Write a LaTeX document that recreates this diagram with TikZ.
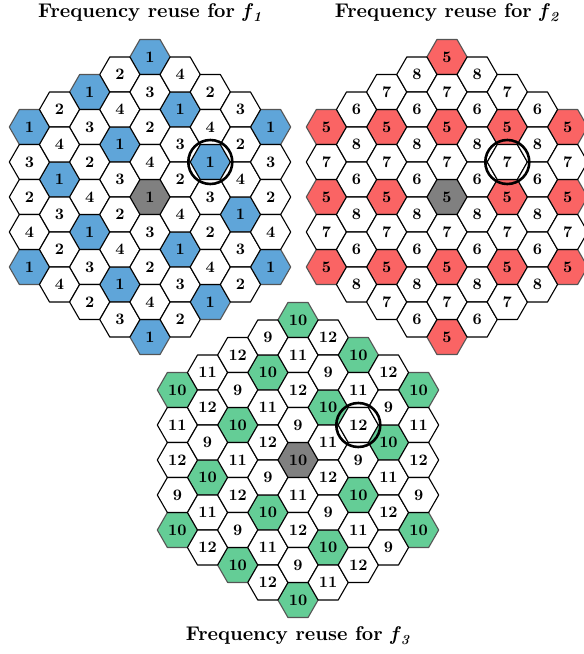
\documentclass[tikz,border=0pt]{standalone}
\usepackage{fontspec}
\setmainfont{lmroman10}[Extension=.otf, UprightFont=*-regular, BoldFont=*-bold, ItalicFont=*-italic, BoldItalicFont=*-bolditalic]
\definecolor{cblue}{HTML}{5FA5D9}
\definecolor{cred}{HTML}{FA6464}
\definecolor{cgreen}{HTML}{64CD96}
\definecolor{cgray}{HTML}{808080}
\definecolor{cedge}{HTML}{555555}
\tikzset{
  hexwhite/.style={draw=black, fill=white, line width=1.1pt, line join=round},
  hexcol/.style={draw=cedge, line width=1.1pt, line join=round},
  hexlab/.style={font=\fontsize{16}{16}\selectfont\bfseries, inner sep=0pt},
  titletext/.style={font=\fontsize{19.8}{19.8}\selectfont\bfseries, inner sep=0pt},
  ring/.style={draw=black, line width=2.6pt},
}
\newcommand{\hexshape}{(-20.1,0) -- (-10.05,-17.5) -- (10.05,-17.5) -- (20.1,0) -- (10.05,17.5) -- (-10.05,17.5) -- cycle}
\newcommand{\drawgrid}[6]{%
  \foreach \pass in {1,2}{%
    \foreach \q/\labs in {#6}{%
      \foreach \l [count=\i from 0] in \labs {%
        \pgfmathsetmacro{\xx}{#2+30.15*\q}%
        \pgfmathsetmacro{\yy}{#3+17.5*(-(8-abs(\q))+2*\i)}%
        \ifnum\l=0
          \ifnum\pass=1
            \draw[hexcol, fill=cgray, shift={(\xx,\yy)}] \hexshape;
            \node[hexlab, name=#1-\q-\i] at (\xx,\yy) {#4};
          \fi
        \else\ifnum\l=#4
          \ifnum\pass=1
            \draw[hexcol, fill=#5, shift={(\xx,\yy)}] \hexshape;
            \node[hexlab, name=#1-\q-\i] at (\xx,\yy) {\l};
          \fi
        \else
          \ifnum\pass=2
            \draw[hexwhite, shift={(\xx,\yy)}] \hexshape;
            \node[hexlab, name=#1-\q-\i] at (\xx,\yy) {\l};
          \fi
        \fi\fi
      }}}}
\begin{document}
\begin{tikzpicture}[x=1pt, y=-1pt]
\useasboundingbox (0,0) rectangle (584,654);
\clip (0,0) rectangle (584,654);
\drawgrid{ga}{150}{197}{1}{cblue}{%
  -4/{1,3,2,4,1},
  -3/{2,4,1,3,2,4},
  -2/{1,3,2,4,1,3,2},
  -1/{2,4,1,3,2,4,1,3},
  0/{1,3,2,4,0,3,2,4,1},
  1/{4,1,3,2,4,1,3,2},
  2/{2,4,1,3,2,4,1},
  3/{3,2,4,1,3,2},
  4/{1,3,2,4,1}}
\drawgrid{gb}{447}{197}{5}{cred}{%
  -4/{5,7,5,7,5},
  -3/{6,8,6,8,6,8},
  -2/{7,5,7,5,7,5,7},
  -1/{8,6,8,6,8,6,8,6},
  0/{5,7,5,7,0,7,5,7,5},
  1/{8,6,8,6,8,6,8,6},
  2/{7,5,7,5,7,5,7},
  3/{6,8,6,8,6,8},
  4/{5,7,5,7,5}}
\drawgrid{gc}{298}{460}{10}{cgreen}{%
  -4/{10,11,12,9,10},
  -3/{11,12,9,10,11,12},
  -2/{12,9,10,11,12,9,10},
  -1/{9,10,11,12,9,10,11,12},
  0/{10,11,12,9,0,11,12,9,10},
  1/{12,9,10,11,12,9,10,11},
  2/{10,11,12,9,10,11,12},
  3/{12,9,10,11,12,9},
  4/{10,11,12,9,10}}
\draw[ring] (ga-2-2.center) circle[radius=22pt];
\draw[ring] (gb-2-2.center) circle[radius=22pt];
\draw[ring] (gc-2-2.center) circle[radius=22pt];
\node[titletext] (t1) at (150,13) {Frequency reuse for \textit{f}\textsubscript{\textit{1}}};
\node[titletext] (t2) at (447,13) {Frequency reuse for \textit{f}\textsubscript{\textit{2}}};
\node[titletext] (t3) at (298,636) {Frequency reuse for \textit{f}\textsubscript{\textit{3}}};
\end{tikzpicture}
\end{document}
